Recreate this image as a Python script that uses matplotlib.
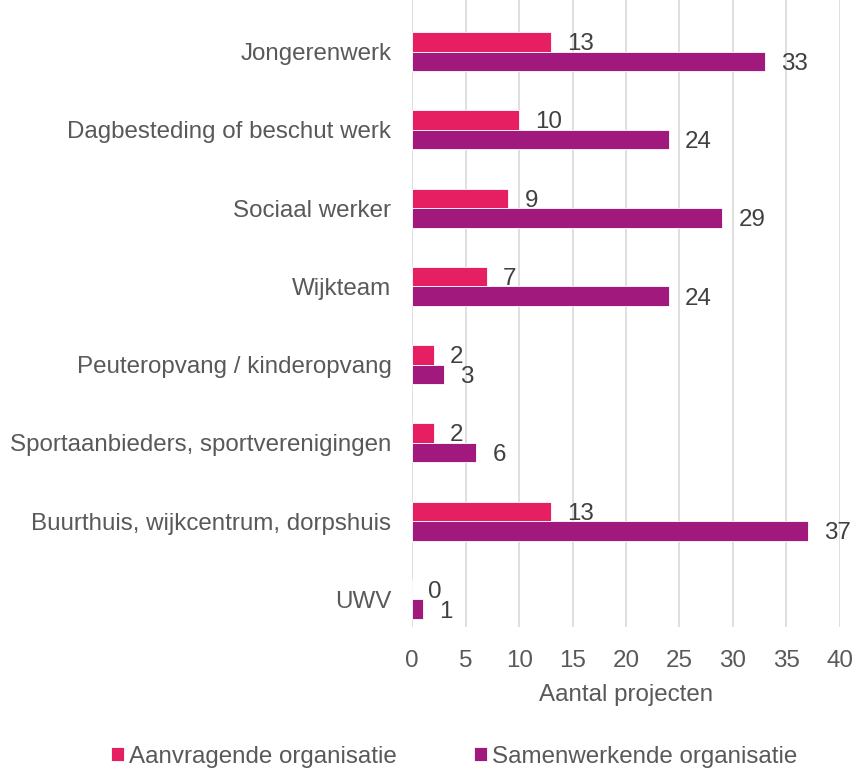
import matplotlib.pyplot as plt
import numpy as np

plt.rcParams['font.family'] = ['Liberation Sans', 'DejaVu Sans']

categories = ['Jongerenwerk', 'Dagbesteding of beschut werk', 'Sociaal werker', 'Wijkteam',
              'Peuteropvang / kinderopvang', 'Sportaanbieders, sportverenigingen',
              'Buurthuis, wijkcentrum, dorpshuis', 'UWV']
aanvragend = [13, 10, 9, 7, 2, 2, 13, 0]
samenwerkend = [33, 24, 29, 24, 3, 6, 37, 1]
series_names = ['Aanvragende organisatie', 'Samenwerkende organisatie']
colors = ['#E61F62', '#A1197D']
txt = '#595959'
fs = 17.4

fig = plt.figure(figsize=(8.57, 7.7), dpi=100)
ax = fig.add_axes([0.481, 0.186, 0.499, 0.814])

y = np.arange(len(categories))
h = 0.25
b1 = ax.barh(y - h/2, aanvragend, height=h, color=colors[0], edgecolor='white', linewidth=0.6,
             label=series_names[0], zorder=3)
b2 = ax.barh(y + h/2, samenwerkend, height=h, color=colors[1], edgecolor='white', linewidth=0.6,
             label=series_names[1], zorder=3)
for bars, vals in ((b1, aanvragend), (b2, samenwerkend)):
    for rect, v in zip(bars, vals):
        ax.text(v + 1.5, rect.get_y() + rect.get_height()/2 + 0.03, str(v), va='center', ha='left',
                fontsize=fs, color='#404040')

ax.set_xlim(0, 40)
ax.set_ylim(7.35, -0.66)
ax.set_xticks(range(0, 41, 5))
ax.set_yticks(y)
ax.set_yticklabels(categories)
ax.tick_params(axis='both', length=0, labelsize=fs, colors=txt)
ax.tick_params(axis='x', pad=17)
ax.tick_params(axis='y', pad=15)
ax.grid(axis='x', color='#D9D9D9', linewidth=1.2, zorder=0)
for s in ax.spines.values():
    s.set_visible(False)
ax.set_xlabel('Aantal projecten', fontsize=fs, color=txt, labelpad=8)

fig.legend(handles=[b1, b2], labels=series_names, loc='lower center', bbox_to_anchor=(0.53, -0.025),
           ncol=2, frameon=False, fontsize=fs, labelcolor=txt, handlelength=0.55, handleheight=0.55,
           handletextpad=0.2, columnspacing=3.2)

fig.savefig('out.png', dpi=100)
